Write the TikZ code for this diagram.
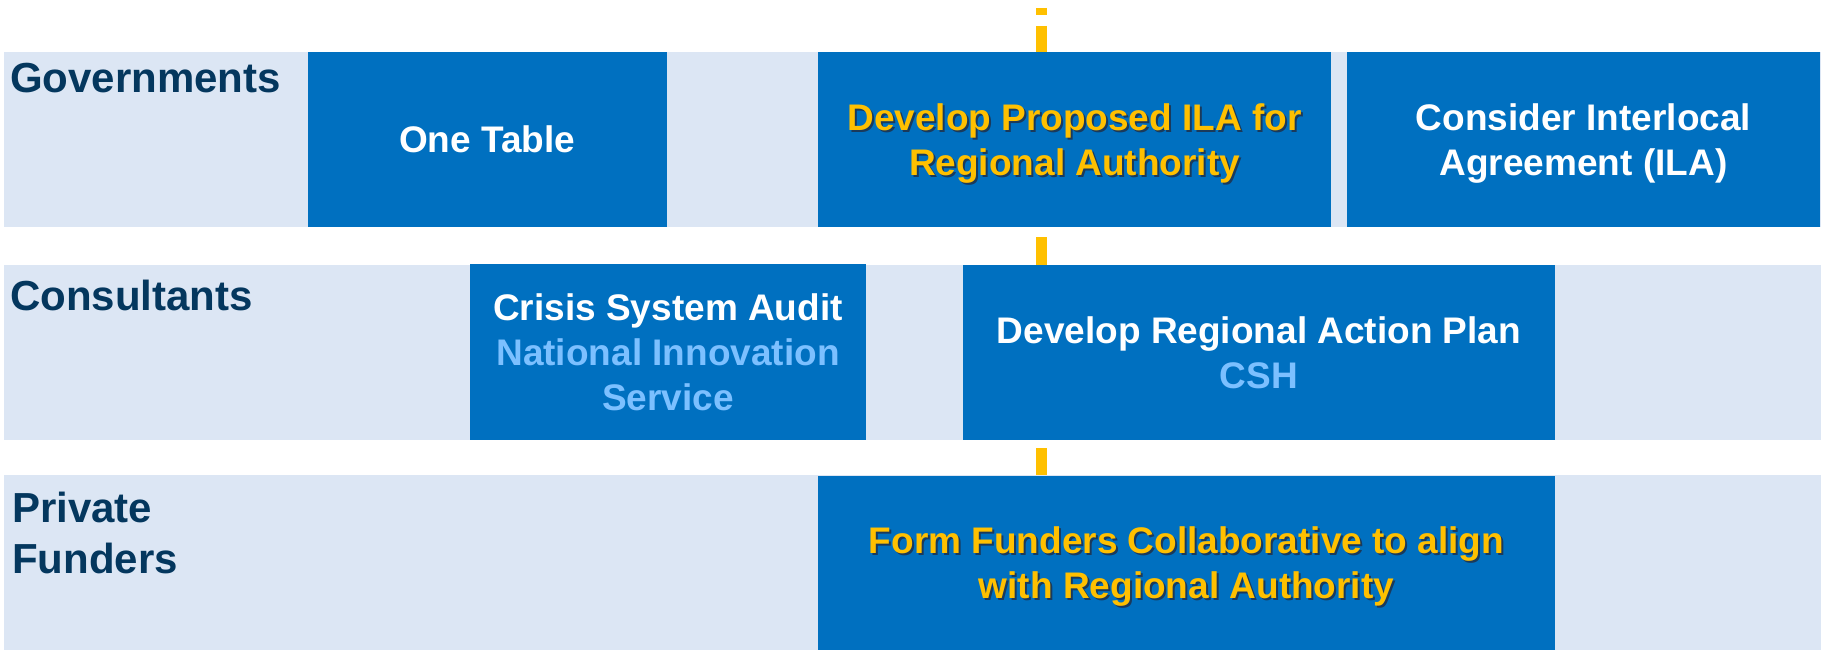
\documentclass[tikz,border=0pt]{standalone}
\usepackage{fontspec}
\setmainfont{Liberation Sans}
\usetikzlibrary{positioning}

\definecolor{lanefill}{HTML}{DCE6F4}
\definecolor{taskfill}{HTML}{0070C0}
\definecolor{lanetext}{HTML}{04375E}
\definecolor{goldtext}{HTML}{FFC000}
\definecolor{skytext}{HTML}{7CC0FF}
\definecolor{txtshadow}{HTML}{1A3A5C}

\newcommand{\shd}[1]{\leavevmode\rlap{\kern2pt\raisebox{-2pt}{\textcolor{txtshadow}{#1}}}#1}
\newcommand{\sky}[1]{\textcolor{skytext}{#1}}
\newcommand{\nodp}[1]{\raisebox{0pt}[\height][0pt]{#1}}

\begin{document}
\begin{tikzpicture}[x=1pt, y=-1pt,
  lane/.style={fill=lanefill, inner sep=0, minimum width=1817.5, minimum height=175},
  task/.style={fill=taskfill, inner sep=0, align=center, text=white,
    font=\fontsize{37}{45}\selectfont\bfseries},
  lbl/.style={anchor=base west, inner sep=0, align=left, text=lanetext,
    font=\fontsize{42}{51}\selectfont\bfseries},
  link/.style={draw=goldtext, line width=10.5}]
\useasboundingbox (0,0) rectangle (1825,650);

\node[lane] (gov)  at (912.25,139.5) {};
\node[lane] (cons) at (912.25,352.5) {};
\node[lane] (priv) at (912.25,562.5) {};

\node[lbl] (govlbl)  at (10,93) {Governments};
\node[lbl] (conslbl) at (10,310.5) {Consultants};
\node[lbl] (privlbl) at (12,573) {Private\\Funders};

\node[task, minimum width=358.5, minimum height=175] (onetable) at (487.25,139.5) {One Table};
\node[task, minimum width=513, minimum height=175, text=goldtext] (propila) at (1074.5,139.5)
  {\shd{Develop Proposed ILA for}\\\nodp{\shd{Regional Authority}}};
\node[task, minimum width=473, minimum height=175] (considerila) at (1583.5,139.5)
  {Consider Interlocal\\\nodp{Agreement (ILA)}};

\node[task, minimum width=396, minimum height=176] (audit) at (668,352)
  {Crisis System Audit\\\sky{National Innovation}\\\sky{Service}};
\node[task, minimum width=592, minimum height=175] (actionplan) at (1259,352.5)
  {Develop Regional Action Plan\\\sky{CSH}};

\node[task, minimum width=737, minimum height=174.5, text=goldtext] (funders) at (1186.5,562.75)
  {\shd{Form Funders Collaborative to align}\\\nodp{\shd{with Regional Authority}}};

\coordinate (start) at (1041.5,8);
\draw[link, dash pattern=on 7 off 11 on 40] (start) -- (start |- propila.north);
\draw[link, shorten <=10] (start |- propila.south) -- (start |- actionplan.north);
\draw[link, shorten <=8] (start |- actionplan.south) -- (start |- funders.north);
\end{tikzpicture}
\end{document}
